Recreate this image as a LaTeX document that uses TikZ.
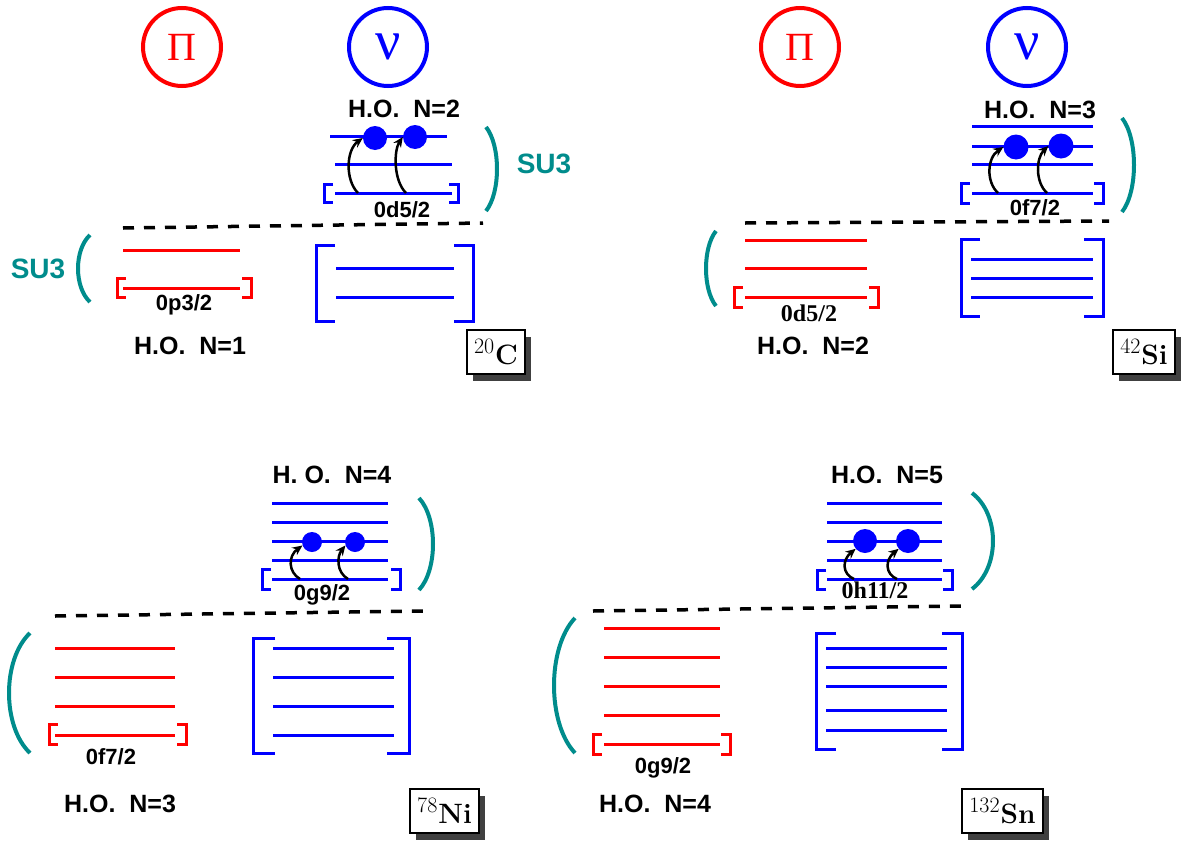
\documentclass[tikz,border=0pt]{standalone}
\usepackage{fontspec}
\newfontfamily\hv{Liberation Sans}
\newfontfamily\tms{Liberation Serif}
\usetikzlibrary{arrows.meta,shadows}
\definecolor{suc}{RGB}{0,140,140}
\definecolor{shd}{RGB}{64,64,64}
\newcommand\iso[2]{\raisebox{11pt}{\fontsize{22}{22}\selectfont #1}\kern1pt{\bfseries #2}}
\newcommand\lvbracket[6]{%
  \draw[brk,#6] ({#1+#5},#3) -- (#1,#3) -- (#1,#4) -- ({#1+#5},#4);
  \draw[brk,#6] ({#2-#5},#3) -- (#2,#3) -- (#2,#4) -- ({#2-#5},#4);}
\newcommand\suarc[4]{%
  \draw[su3] (#1,#3) .. controls ({#1+1.333*(#2-#1)},{#3+0.22*(#4-#3)}) and ({#1+1.333*(#2-#1)},{#3+0.78*(#4-#3)}) .. (#1,#4);}
\newcommand\lvs[4]{\foreach \yy in {#3} {\draw[lv,#4] (#1,\yy) -- (#2,\yy);}}
\begin{document}
\begin{tikzpicture}[x=1pt,y=-1pt,
  lv/.style={line width=3pt},
  brk/.style={line width=3pt},
  su3/.style={draw=suc,line width=4pt},
  gapline/.style={draw=black,line width=3.5pt,dash pattern=on 11pt off 10pt},
  dotn/.style={circle,fill=blue,inner sep=0pt,minimum size=#1},
  arr/.style={-{Stealth[length=10pt,width=9pt]},line width=2.5pt,black},
  hol/.style={font=\hv\bfseries\fontsize{25}{30}\selectfont,inner sep=0pt,anchor=base},
  orb/.style={font=\hv\bfseries\fontsize{22}{26}\selectfont,inner sep=0pt,anchor=base},
  orbs/.style={font=\tms\bfseries\fontsize{24}{28}\selectfont,inner sep=0pt,anchor=base},
  sulbl/.style={font=\hv\bfseries\fontsize{28}{32}\selectfont,text=suc,inner sep=0pt,anchor=base},
  pcirc/.style={circle,draw=#1,line width=4pt,minimum size=78pt,inner sep=0pt,text=#1},
  pifont/.style={font=\tms\fontsize{40}{44}\selectfont},
  nufont/.style={font=\tms\fontsize{56}{60}\selectfont},
  nuc/.style={draw=black,line width=2pt,fill=white,inner xsep=7pt,minimum height=44pt,
    font=\fontsize{28}{34}\selectfont,
    drop shadow={shadow xshift=6pt,shadow yshift=-7pt,fill=shd,opacity=1}},
]
\useasboundingbox (0,0) rectangle (1184,846);

% ---------------- Panel 1 : 20C ----------------
\node[pcirc=red,pifont] (pi1) at (182,47) {\raisebox{-4pt}{Π}};
\node[pcirc=blue,nufont] (nu1) at (388,47) {\raisebox{-4pt}{ν}};
\node[hol] (ho1n) at (404,117) {H.O.~~N=2};
\draw[lv,blue] (330,136) -- (447,136);
\lvs{335}{452}{164,193}{blue}
\lvbracket{324}{458}{184}{202}{9}{blue}
\node[dotn=24pt] (d1a) at (375,138) {};
\node[dotn=24pt] (d1b) at (415,137) {};
\coordinate (a1a) at (358,193);
\coordinate (a1b) at (406,193);
\draw[arr] (a1a) .. controls (345,180) and (346,150) .. (d1a.west);
\draw[arr] (a1b) .. controls (393,180) and (394,150) .. (d1b.west);
\node[orb] (o1n) at (402,217) {0d5/2};
\suarc{486}{497}{127}{211}
\node[sulbl] (su1r) at (544,173) {SU3};
\draw[gapline] (123,228) -- (483,223);
\suarc{90}{78}{235}{302}
\node[sulbl] (su1l) at (38,278) {SU3};
\lvs{123}{240}{250,288}{red}
\lvbracket{117}{251}{278}{297}{9}{red}
\node[orb] (o1p) at (184,310) {0p3/2};
\node[hol] (ho1p) at (190,354) {H.O.~~N=1};
\lvbracket{316}{473}{245}{321}{19}{blue}
\lvs{336}{454}{268,297}{blue}
\node[nuc] (c20) at (496,352) {\iso{20}{C}};

% ---------------- Panel 2 : 42Si ----------------
\node[pcirc=red,pifont] (pi2) at (800,47) {\raisebox{-4pt}{Π}};
\node[pcirc=blue,nufont] (nu2) at (1027,47) {\raisebox{-4pt}{ν}};
\node[hol] (ho2n) at (1040,118) {H.O.~~N=3};
\lvs{972}{1093}{126,146,164,193}{blue}
\lvbracket{961}{1103}{183}{203}{9}{blue}
\node[dotn=25pt] (d2a) at (1016,147) {};
\node[dotn=25pt] (d2b) at (1061,146) {};
\coordinate (a2a) at (998,193);
\coordinate (a2b) at (1047,193);
\draw[arr] (a2a) .. controls (986,182) and (987,158) .. (d2a.west);
\draw[arr] (a2b) .. controls (1035,182) and (1036,158) .. (d2b.west);
\node[orb] (o2n) at (1035,215) {0f7/2};
\suarc{1122}{1134}{118}{212}
\draw[gapline] (745,223) -- (1109,221);
\suarc{716}{706}{231}{306}
\lvs{745}{867}{240,268,297}{red}
\lvbracket{734}{878}{287}{307}{9}{red}
\node[orbs] (o2p) at (809,321) {0d5/2};
\node[hol] (ho2p) at (813,354) {H.O.~~N=2};
\lvbracket{961}{1103}{239}{316}{19}{blue}
\lvs{971}{1093}{259,278,297}{blue}
\node[nuc] (si42) at (1144,352) {\iso{42}{Si}};

% ---------------- Panel 3 : 78Ni ----------------
\node[hol] (ho3n) at (332,483) {H.~O.~~N=4};
\lvs{272}{388}{503,522,541,560,579}{blue}
\lvbracket{262}{400}{569}{589}{9}{blue}
\node[dotn=20pt] (d3a) at (312,542) {};
\node[dotn=20pt] (d3b) at (355,542) {};
\coordinate (a3a) at (300,579);
\coordinate (a3b) at (348,579);
\draw[arr] (a3a) .. controls (288,572) and (288,556) .. (d3a.200);
\draw[arr] (a3b) .. controls (336,572) and (337,556) .. (d3b.200);
\node[orb] (o3n) at (322,600) {0g9/2};
\suarc{419}{433}{498}{590}
\draw[gapline] (55,616) -- (423,611);
\suarc{30}{9}{633}{753}
\lvs{55}{175}{648,677,706,735}{red}
\lvbracket{49}{186}{724}{744}{9}{red}
\node[orb] (o3p) at (111,764) {0f7/2};
\node[hol] (ho3p) at (120,812) {H.O.~~N=3};
\lvbracket{253}{409}{638}{753}{22}{blue}
\lvs{273}{394}{648,677,706,735}{blue}
\node[nuc] (ni78) at (444.5,811) {\iso{78}{Ni}};

% ---------------- Panel 4 : 132Sn ----------------
\node[hol] (ho4n) at (887,483) {H.O.~~N=5};
\lvs{827}{942}{503,522,541,560,579}{blue}
\lvbracket{817}{952}{570}{589}{9}{blue}
\node[dotn=24pt] (d4a) at (865,541) {};
\node[dotn=24pt] (d4b) at (908,541) {};
\coordinate (a4a) at (854,579);
\coordinate (a4b) at (897,579);
\draw[arr] (a4a) .. controls (842,574) and (842,560) .. (d4a.220);
\draw[arr] (a4b) .. controls (885,574) and (885,560) .. (d4b.220);
\node[orbs] (o4n) at (875,598) {0h11/2};
\suarc{972}{993}{493}{589}
\draw[gapline] (593,611) -- (961,606);
\suarc{575}{554}{618}{753}
\lvs{604}{720}{628,657,686,715,744}{red}
\lvbracket{593}{730}{734}{754}{9}{red}
\node[orb] (o4p) at (663,773) {0g9/2};
\node[hol] (ho4p) at (655,812) {H.O.~~N=4};
\lvbracket{816}{962}{633}{749}{20}{blue}
\lvs{826}{947}{648,667,686,710,730}{blue}
\node[nuc] (sn132) at (1002.5,810.5) {\iso{132}{Sn}};
\end{tikzpicture}
\end{document}
